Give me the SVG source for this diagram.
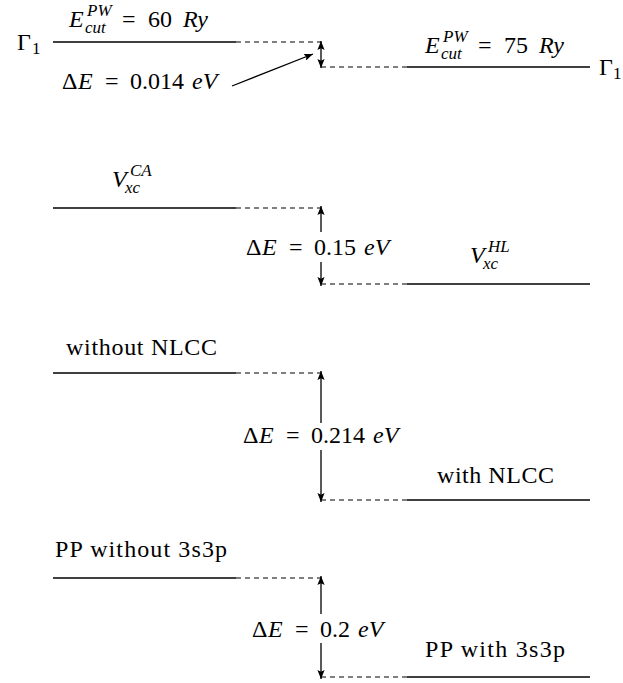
<svg xmlns="http://www.w3.org/2000/svg" width="623" height="683" viewBox="0 0 623 683" font-family="'Liberation Serif', 'DejaVu Serif', 'Noto Serif', 'Times New Roman', serif">
<defs>
<marker id="ah" viewBox="0 0 10 8" refX="10" refY="4" markerWidth="9" markerHeight="7.2" markerUnits="userSpaceOnUse" orient="auto-start-reverse">
<path d="M0,0 L10,4 L0,8 L2,4 Z" fill="#000"/>
</marker>
<style>
text{font-family:'Liberation Serif','DejaVu Serif','Noto Serif','Times New Roman',serif;fill:#000}
.t{font-size:24px}
.s{font-size:17px}
.i{font-style:italic}
.lv{stroke:#000;stroke-width:1.3;fill:none}
.dl{stroke:#000;stroke-width:1.2;stroke-dasharray:5 4;fill:none}
.ar{stroke:#000;stroke-width:1.3;fill:none}
</style>
</defs>
<rect width="623" height="683" fill="#fff"/>

<g id="level-60Ry">
<line class="lv" x1="53" y1="42" x2="236" y2="42"/>
<text class="t" x="17" y="50">Γ</text><text class="s" x="32" y="54">1</text>
<text class="t i" x="69" y="27">E</text>
<text class="s i" x="87" y="16">PW</text>
<text class="s i" x="85" y="33">cut</text>
<text class="t" x="122" y="27">=</text>
<text class="t" x="148" y="27">60</text>
<text class="t i" x="183" y="27">Ry</text>
</g>
<g id="level-75Ry">
<line class="lv" x1="407" y1="67" x2="590" y2="67"/>
<text class="t" x="599" y="75">Γ</text><text class="s" x="613" y="79">1</text>
<text class="t i" x="425" y="53">E</text>
<text class="s i" x="443" y="42">PW</text>
<text class="s i" x="441" y="59">cut</text>
<text class="t" x="478" y="53">=</text>
<text class="t" x="504" y="53">75</text>
<text class="t i" x="539" y="53">Ry</text>
</g>
<g id="label-dE1">
<text class="t" x="62" y="89">Δ</text>
<text class="t i" x="78" y="89">E</text>
<text class="t" x="105" y="89">=</text>
<text class="t" x="130" y="89">0.014</text>
<text class="t i" x="192" y="89">eV</text>
</g>

<g id="level-VCA">
<line class="lv" x1="53" y1="208" x2="236" y2="208"/>
<text class="t i" x="112" y="187">V</text>
<text class="s i" x="130" y="176">CA</text>
<text class="s i" x="125" y="193">xc</text>
</g>
<g id="level-VHL">
<line class="lv" x1="407" y1="284" x2="590" y2="284"/>
<text class="t i" x="470" y="263">V</text>
<text class="s i" x="488" y="252">HL</text>
<text class="s i" x="483" y="269">xc</text>
</g>
<g id="label-dE2">
<text class="t" x="246" y="255">Δ</text>
<text class="t i" x="262" y="255">E</text>
<text class="t" x="289" y="255">=</text>
<text class="t" x="314" y="255">0.15</text>
<text class="t i" x="364" y="255">eV</text>
</g>

<g id="level-noNLCC">
<line class="lv" x1="53" y1="373" x2="236" y2="373"/>
<text class="t" x="66" y="355" textLength="151" lengthAdjust="spacing">without NLCC</text>
</g>
<g id="level-NLCC">
<line class="lv" x1="407" y1="500" x2="590" y2="500"/>
<text class="t" x="437" y="483" textLength="117" lengthAdjust="spacing">with NLCC</text>
</g>
<g id="label-dE3">
<text class="t" x="243" y="443">Δ</text>
<text class="t i" x="259" y="443">E</text>
<text class="t" x="286" y="443">=</text>
<text class="t" x="311" y="443">0.214</text>
<text class="t i" x="373" y="443">eV</text>
</g>

<g id="level-no3s3p">
<line class="lv" x1="53" y1="578" x2="236" y2="578"/>
<text class="t" x="55" y="557" textLength="172" lengthAdjust="spacing">PP without 3s3p</text>
</g>
<g id="level-3s3p">
<line class="lv" x1="407" y1="677" x2="590" y2="677"/>
<text class="t" x="425" y="657" textLength="140" lengthAdjust="spacing">PP with 3s3p</text>
</g>
<g id="label-dE4">
<text class="t" x="252" y="637">Δ</text>
<text class="t i" x="268" y="637">E</text>
<text class="t" x="295" y="637">=</text>
<text class="t" x="320" y="637">0.2</text>
<text class="t i" x="358" y="637">eV</text>
</g>

<g id="connectors">
<line class="dl" x1="236" y1="42" x2="321" y2="42"/>
<line class="dl" x1="321" y1="67" x2="407" y2="67"/>
<line class="ar" x1="321" y1="54" x2="321" y2="41" marker-end="url(#ah)"/>
<line class="ar" x1="321" y1="54" x2="321" y2="68" marker-end="url(#ah)"/>
<line class="ar" x1="232" y1="86" x2="313" y2="54" marker-end="url(#ah)"/>

<line class="dl" x1="236" y1="208" x2="321" y2="208"/>
<line class="dl" x1="321" y1="284" x2="407" y2="284"/>
<line class="ar" x1="321" y1="232" x2="321" y2="206" marker-end="url(#ah)"/>
<line class="ar" x1="321" y1="262" x2="321" y2="286" marker-end="url(#ah)"/>

<line class="dl" x1="236" y1="373" x2="321" y2="373"/>
<line class="dl" x1="321" y1="500" x2="407" y2="500"/>
<line class="ar" x1="321" y1="423" x2="321" y2="371" marker-end="url(#ah)"/>
<line class="ar" x1="321" y1="450" x2="321" y2="502" marker-end="url(#ah)"/>

<line class="dl" x1="236" y1="578" x2="321" y2="578"/>
<line class="dl" x1="321" y1="677" x2="407" y2="677"/>
<line class="ar" x1="321" y1="614" x2="321" y2="576" marker-end="url(#ah)"/>
<line class="ar" x1="321" y1="643" x2="321" y2="679" marker-end="url(#ah)"/>
</g>
</svg>
